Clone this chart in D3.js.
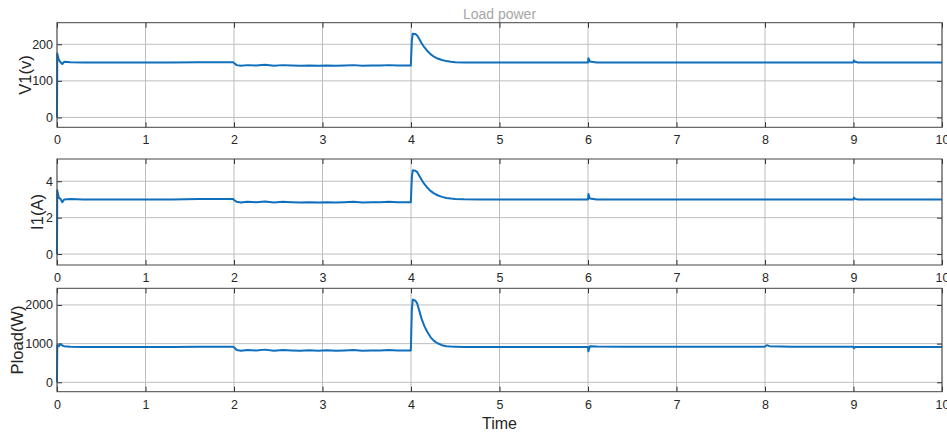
<!DOCTYPE html>
<html><head><meta charset="utf-8">
<script src="https://cdn.jsdelivr.net/npm/d3@7/dist/d3.min.js"></script>
<style>body{margin:0;background:#fff}svg{display:block}</style>
</head><body><svg id="c" width="947" height="432"></svg>
<script>
const time = [
0, 0.003, 0.02, 0.04, 0.06, 0.08, 0.15, 0.3, 0.5, 0.8, 1.0, 1.3, 1.6, 1.99,
2.0, 2.03, 2.08, 2.15, 2.25, 2.35, 2.45, 2.55, 2.65, 2.75, 2.85, 2.95, 3.05, 3.15, 3.25, 3.35, 3.45, 3.55, 3.65, 3.75, 3.85, 3.95, 3.998,
4.01, 4.02, 4.05, 4.07, 4.09, 4.12, 4.15, 4.18, 4.22, 4.26, 4.3, 4.35, 4.4, 4.45, 4.5, 4.6, 4.8, 5.0, 5.3, 5.6, 5.99,
6.0, 6.005, 6.02, 6.1, 6.4, 6.8, 7.2, 7.6, 7.99,
8.0, 8.02, 8.05, 8.3, 8.6, 8.99,
9.0, 9.005, 9.02, 9.05, 9.3, 9.6, 10.0];
const v1 = [
0, 175, 158, 151, 146, 152, 151, 150, 150, 150, 150, 150, 151, 151,
149, 143, 141, 143, 142, 144, 141, 143, 142, 141, 142, 141, 142, 141, 142, 143, 141, 142, 142, 143, 142, 142, 142,
212, 229, 228, 224, 216, 203, 192, 183, 173, 166, 161, 157, 154, 152, 151, 150, 150, 150, 150, 150, 150,
150, 162, 153, 150, 150, 150, 150, 150, 150,
150, 150, 150, 150, 150, 150,
151, 156, 152, 150, 150, 150, 150];
const i1 = [
0, 3.5, 3.1, 3.02, 2.85, 3.0, 3.02, 3.0, 3.0, 3.0, 3.0, 3.0, 3.02, 3.02,
2.97, 2.87, 2.83, 2.87, 2.85, 2.88, 2.83, 2.87, 2.85, 2.83, 2.85, 2.83, 2.85, 2.83, 2.85, 2.87, 2.83, 2.85, 2.85, 2.87, 2.85, 2.85, 2.85,
4.25, 4.6, 4.58, 4.5, 4.33, 4.08, 3.85, 3.67, 3.47, 3.33, 3.23, 3.14, 3.08, 3.05, 3.03, 3.01, 3.0, 3.0, 3.0, 3.0, 3.0,
3.0, 3.3, 3.05, 3.0, 3.0, 3.0, 3.0, 3.0, 3.0,
3.0, 3.0, 3.0, 3.0, 3.0, 3.0,
3.0, 3.1, 3.03, 3.0, 3.0, 3.0, 3.0];
const pload = [
0, 950, 930, 990, 950, 935, 920, 915, 915, 915, 915, 915, 920, 920,
905, 835, 815, 835, 825, 845, 815, 835, 825, 815, 830, 815, 830, 815, 825, 835, 815, 825, 825, 835, 825, 825, 825,
1900, 2140, 2110, 2040, 1880, 1640, 1460, 1320, 1170, 1070, 1010, 960, 935, 925, 920, 915, 915, 915, 915, 915, 915,
915, 800, 935, 925, 920, 920, 920, 920, 920,
925, 960, 935, 920, 920, 920,
920, 880, 915, 915, 915, 915, 915];
const xTicks = [0,1,2,3,4,5,6,7,8,9,10];
const v1Ticks = [0,100,200];
const i1Ticks = [0,2,4];
const pTicks = [0,1000,2000];

const svg = d3.select("#c");
const font = "Liberation Sans, Arial, Helvetica, sans-serif";
const left = 57, right = 942;
const x = d3.scaleLinear().domain([0,10]).range([left,right]);

const panels = [
  {vals:v1, ticks:v1Ticks, dom:[-27,259], top:22.7, bot:127.3, label:"V1(v)", lx:25},
  {vals:i1, ticks:i1Ticks, dom:[-0.6,5.22], top:159, bot:265, label:"I1(A)", lx:37},
  {vals:pload, ticks:pTicks, dom:[-243,2431], top:288.3, bot:391.7, label:"Pload(W)", lx:17}
];

panels.forEach(p => {
  const y = d3.scaleLinear().domain(p.dom).range([p.bot,p.top]);
  const g = svg.append("g");
  g.selectAll(".gx").data(xTicks).join("line")
    .attr("x1",d=>x(d)).attr("x2",d=>x(d)).attr("y1",p.top).attr("y2",p.bot)
    .attr("stroke","#bdbdbd").attr("stroke-width",1);
  g.selectAll(".gy").data(p.ticks).join("line")
    .attr("x1",left).attr("x2",right).attr("y1",d=>y(d)).attr("y2",d=>y(d))
    .attr("stroke","#bdbdbd").attr("stroke-width",1);
  const ax = d3.axisBottom(x).tickValues(xTicks).tickSizeInner(-5).tickSizeOuter(0).tickPadding(8).tickFormat(d3.format("d"));
  const axT = d3.axisTop(x).tickValues(xTicks).tickSizeInner(-5).tickSizeOuter(0).tickFormat("");
  const ay = d3.axisLeft(y).tickValues(p.ticks).tickSizeInner(-5).tickSizeOuter(0).tickPadding(4).tickFormat(d3.format("d"));
  const ayR = d3.axisRight(y).tickValues(p.ticks).tickSizeInner(-5).tickSizeOuter(0).tickFormat("");
  [[ax,`translate(0,${p.bot})`],[axT,`translate(0,${p.top})`],[ay,`translate(${left},0)`],[ayR,`translate(${right},0)`]].forEach(([a,t])=>{
    const gg = g.append("g").attr("transform",t).call(a);
    gg.select(".domain").remove();
    gg.selectAll(".tick line").attr("stroke","#333");
    gg.selectAll("text").attr("fill","#262626").style("font-family",font).style("font-size","12.5px");
  });
  const line = d3.line().x((d,i)=>x(time[i])).y(d=>y(d));
  g.append("path").datum(p.vals).attr("d",line).attr("fill","none")
    .attr("stroke","#0f6fbd").attr("stroke-width",2).attr("stroke-linejoin","round");
  g.append("rect").attr("x",left).attr("y",p.top).attr("width",right-left).attr("height",p.bot-p.top)
    .attr("fill","none").attr("stroke","#444").attr("stroke-width",1);
  g.append("text").attr("transform",`translate(${p.lx},${(p.top+p.bot)/2}) rotate(-90)`)
    .attr("text-anchor","middle").attr("dominant-baseline","central")
    .style("font-family",font).style("font-size","16.5px").attr("fill","#262626").text(p.label);
});

svg.append("text").attr("x",(left+right)/2).attr("y",14).attr("text-anchor","middle")
  .attr("dominant-baseline","central").style("font-family",font).style("font-size","14px")
  .attr("fill","#a6a6a6").text("Load power");
svg.append("text").attr("x",(left+right)/2).attr("y",423).attr("text-anchor","middle")
  .attr("dominant-baseline","central").style("font-family",font).style("font-size","16px")
  .attr("fill","#262626").text("Time");
</script></body></html>
